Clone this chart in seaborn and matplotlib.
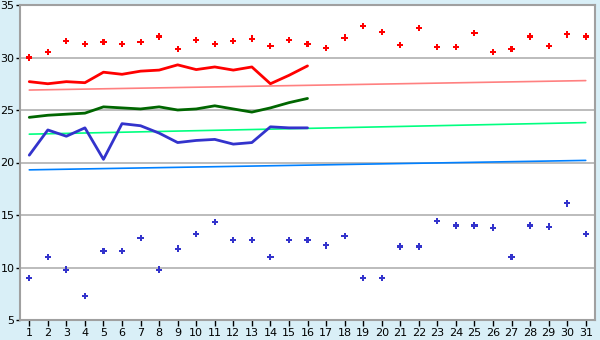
import matplotlib
matplotlib.use("Agg")
import matplotlib.pyplot as plt
import seaborn as sns
import pandas as pd

days = list(range(1, 32))
max_temp = [30.0, 30.5, 31.6, 31.3, 31.5, 31.3, 31.5, 32.0, 30.8, 31.7,
            31.3, 31.6, 31.8, 31.1, 31.7, 31.3, 30.9, 31.9, 33.0, 32.4,
            31.2, 32.8, 31.0, 31.0, 32.3, 30.5, 30.8, 32.0, 31.1, 32.2, 32.0]
min_temp = [9.0, 11.0, 9.8, 7.3, 11.6, 11.6, 12.8, 9.8, 11.8, 13.2,
            14.3, 12.6, 12.6, 11.0, 12.6, 12.6, 12.1, 13.0, 9.0, 9.0,
            12.0, 12.0, 14.4, 14.0, 14.0, 13.8, 11.0, 14.0, 13.9, 16.1, 13.2]
line_days = list(range(1, 17))
red_line = [27.7, 27.5, 27.7, 27.6, 28.6, 28.4, 28.7, 28.8, 29.3, 28.85,
            29.1, 28.8, 29.1, 27.5, 28.3, 29.2]
green_line = [24.3, 24.5, 24.6, 24.7, 25.3, 25.2, 25.1, 25.3, 25.0, 25.1,
              25.4, 25.1, 24.8, 25.2, 25.7, 26.1]
blue_line = [20.7, 23.1, 22.5, 23.3, 20.3, 23.7, 23.5, 22.8, 21.9, 22.1,
             22.2, 21.75, 21.9, 23.4, 23.3, 23.3]
trend_days = [1, 31]
pink_trend = [26.9, 27.8]
lgreen_trend = [22.7, 23.8]
lblue_trend = [19.3, 20.2]

sns.set_theme(style="white")
plt.rcParams['font.family'] = ['DejaVu Sans']

fig = plt.figure(figsize=(6, 3.4), dpi=100, facecolor="#d9eff7")
ax = fig.add_axes([20/600, 20/340, 575/600, 315/340])
ax.set_facecolor("white")

for y in [10, 15, 20, 25, 30]:
    ax.axhline(y, color="#b0b0b0", lw=1.2, zorder=0)

sns.lineplot(x=trend_days, y=pink_trend, color="#ff8080", lw=1.2, ax=ax)
sns.lineplot(x=trend_days, y=lgreen_trend, color="#00ff80", lw=1.2, ax=ax)
sns.lineplot(x=trend_days, y=lblue_trend, color="#0080ff", lw=1.2, ax=ax)

sns.lineplot(x=line_days, y=red_line, color="#ff0000", lw=2, ax=ax)
sns.lineplot(x=line_days, y=green_line, color="#006600", lw=2, ax=ax)
sns.lineplot(x=line_days, y=blue_line, color="#3333cc", lw=2, ax=ax)

sns.scatterplot(x=days, y=max_temp, marker="P", s=20, color="#ff0000",
                edgecolor="none", ax=ax, zorder=5)
sns.scatterplot(x=days, y=min_temp, marker="P", s=20, color="#3333cc",
                edgecolor="none", ax=ax, zorder=5)

ax.set_xlim(0.5, 31.5)
ax.set_ylim(5, 35)
ax.set_xticks(days)
ax.set_xticklabels([str(d) for d in days])
ax.set_yticks([5, 10, 15, 20, 25, 30, 35])
ax.tick_params(axis="x", labelsize=8, colors="black", length=4, width=1,
               direction="out", pad=2, bottom=True)
ax.tick_params(axis="y", labelsize=8, colors="black", length=3, width=1,
               direction="out", pad=1, left=True)
for s in ax.spines.values():
    s.set_color("#a0a0a0")
    s.set_linewidth(1.5)
ax.set_xlabel("")
ax.set_ylabel("")

fig.savefig("out.png", dpi=100, facecolor=fig.get_facecolor())
